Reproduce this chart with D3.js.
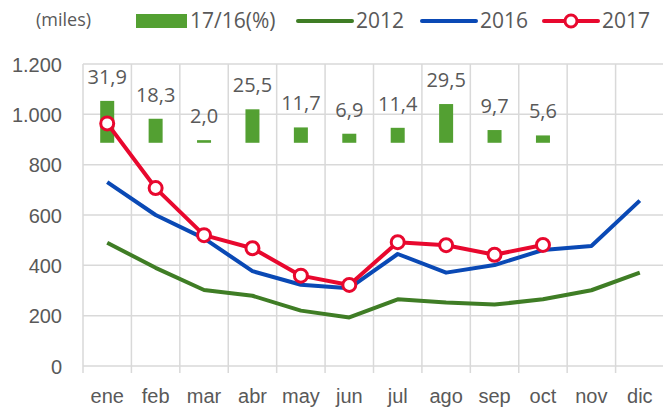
<!DOCTYPE html>
<html>
<head>
<meta charset="utf-8">
<script src="https://cdn.jsdelivr.net/npm/d3@7"></script>
<style>
  body { margin: 0; background: #fff; }
  svg { display: block; font-family: "Open Sans", sans-serif; }
  .tick text { fill: #595959; }
</style>
</head>
<body>
<div id="chart"></div>
<script>
// categories and values
const months = ["ene", "feb", "mar", "abr", "may", "jun", "jul", "ago", "sep", "oct", "nov", "dic"];
const pct1716 = [31.9, 18.3, 2.0, 25.5, 11.7, 6.9, 11.4, 29.5, 9.7, 5.6];
const s2012 = [490, 390, 302, 279, 220, 193, 265, 252, 244, 265, 301, 371];
const s2016 = [731, 600, 507, 377, 323, 309, 445, 371, 401, 461, 477, 657];
const s2017 = [964, 707, 520, 468, 359, 322, 492, 480, 442, 481];
const yTicks = [0, 200, 400, 600, 800, 1000, 1200];

const W = 663, H = 409;
const margin = { top: 64, right: 0, bottom: 43, left: 83 };
const plotW = 664 - margin.left;
const plotH = H - margin.top - margin.bottom;

const colBar = "#53a032", col2012 = "#3f7d25", col2016 = "#0a49b5", col2017 = "#e8082e";
const grid = "#d9d9d9", txt = "#595959";

const svg = d3.select("#chart").append("svg")
  .attr("width", W)
  .attr("height", H);

const g = svg.append("g")
  .attr("transform", `translate(${margin.left},${margin.top})`);

const x = d3.scaleBand().domain(months).range([0, plotW]);
const y = d3.scaleLinear().domain([0, 1200]).range([plotH, 0]);
// hidden secondary axis for the percentage bars
const y2 = d3.scaleLinear().domain([-170, 60]).range([plotH, 0]);

const fmt = d => d3.format(",")(d).replace(/,/g, ".");
const fmtPct = d => d.toFixed(1).replace(".", ",");

// horizontal grid
g.selectAll(".hgrid")
  .data(yTicks)
  .enter()
  .append("line")
  .attr("x1", 0).attr("x2", plotW)
  .attr("y1", d => y(d)).attr("y2", d => y(d))
  .attr("stroke", grid).attr("stroke-width", 1.5);

// vertical grid (category boundaries, running down as tick marks)
const bounds = months.map(m => x(m)).concat([plotW]);
g.selectAll(".vgrid")
  .data(bounds)
  .enter()
  .append("line")
  .attr("x1", d => d).attr("x2", d => d)
  .attr("y1", 0).attr("y2", plotH + 7)
  .attr("stroke", grid).attr("stroke-width", 1.5);

// y axis labels
const yAxis = g.append("g")
  .call(d3.axisLeft(y).tickValues(yTicks).tickSize(0).tickPadding(21).tickFormat(fmt));
yAxis.select(".domain").remove();
yAxis.selectAll("text").attr("font-size", 20).attr("dy", "0.35em");

// x axis labels
const xAxis = g.append("g")
  .attr("transform", `translate(0,${plotH})`)
  .call(d3.axisBottom(x).tickSize(0).tickPadding(0));
xAxis.select(".domain").remove();
xAxis.selectAll("text").attr("font-size", 20).attr("y", 37).attr("dy", 0);

// bars 17/16(%)
const barW = 14;
g.selectAll(".bar")
  .data(pct1716)
  .enter()
  .append("rect")
  .attr("class", "bar")
  .attr("x", (d, i) => x(months[i]) + x.bandwidth() / 2 - barW / 2)
  .attr("y", d => y2(d))
  .attr("width", barW)
  .attr("height", d => y2(0) - y2(d))
  .attr("fill", colBar);

g.selectAll(".label")
  .data(pct1716)
  .enter()
  .append("text")
  .attr("class", "label")
  .attr("x", (d, i) => x(months[i]) + x.bandwidth() / 2)
  .attr("y", d => y2(d) - 17)
  .attr("text-anchor", "middle")
  .attr("font-size", 20)
  .attr("fill", txt)
  .text(fmtPct);

// lines
const line = d3.line()
  .x((d, i) => x(months[i]) + x.bandwidth() / 2)
  .y(d => y(d));

[[s2012, col2012], [s2016, col2016], [s2017, col2017]].forEach(([s, c]) => {
  g.append("path")
    .datum(s)
    .attr("fill", "none")
    .attr("stroke", c)
    .attr("stroke-width", 4)
    .attr("stroke-linejoin", "round")
    .attr("d", line);
});

g.selectAll(".dot")
  .data(s2017)
  .enter()
  .append("circle")
  .attr("cx", (d, i) => x(months[i]) + x.bandwidth() / 2)
  .attr("cy", d => y(d))
  .attr("r", 6.5)
  .attr("fill", "#fff")
  .attr("stroke", col2017)
  .attr("stroke-width", 3);

// unit label
svg.append("text")
  .attr("x", 36).attr("y", 20)
  .attr("dy", "0.35em")
  .attr("font-size", 18)
  .attr("fill", txt)
  .text("(miles)");

// legend
const legY = 21;
svg.append("rect")
  .attr("x", 136).attr("y", 14)
  .attr("width", 51).attr("height", 14)
  .attr("fill", colBar);
svg.append("text")
  .attr("x", 190).attr("y", legY).attr("dy", "0.35em")
  .attr("font-size", 21).attr("fill", txt)
  .text("17/16(%)");

const legLines = [
  { name: "2012", color: col2012, x0: 298, marker: false },
  { name: "2016", color: col2016, x0: 422, marker: false },
  { name: "2017", color: col2017, x0: 544, marker: true }
];
legLines.forEach(l => {
  svg.append("line")
    .attr("x1", l.x0).attr("x2", l.x0 + 54)
    .attr("y1", legY).attr("y2", legY)
    .attr("stroke", l.color).attr("stroke-width", 4)
    .attr("stroke-linecap", "round");
  if (l.marker) {
    svg.append("circle")
      .attr("cx", l.x0 + 27).attr("cy", legY).attr("r", 6)
      .attr("fill", "#fff").attr("stroke", l.color).attr("stroke-width", 3);
  }
  svg.append("text")
    .attr("x", l.x0 + 58).attr("y", legY).attr("dy", "0.35em")
    .attr("font-size", 21).attr("fill", txt)
    .text(l.name);
});
</script>
</body>
</html>
